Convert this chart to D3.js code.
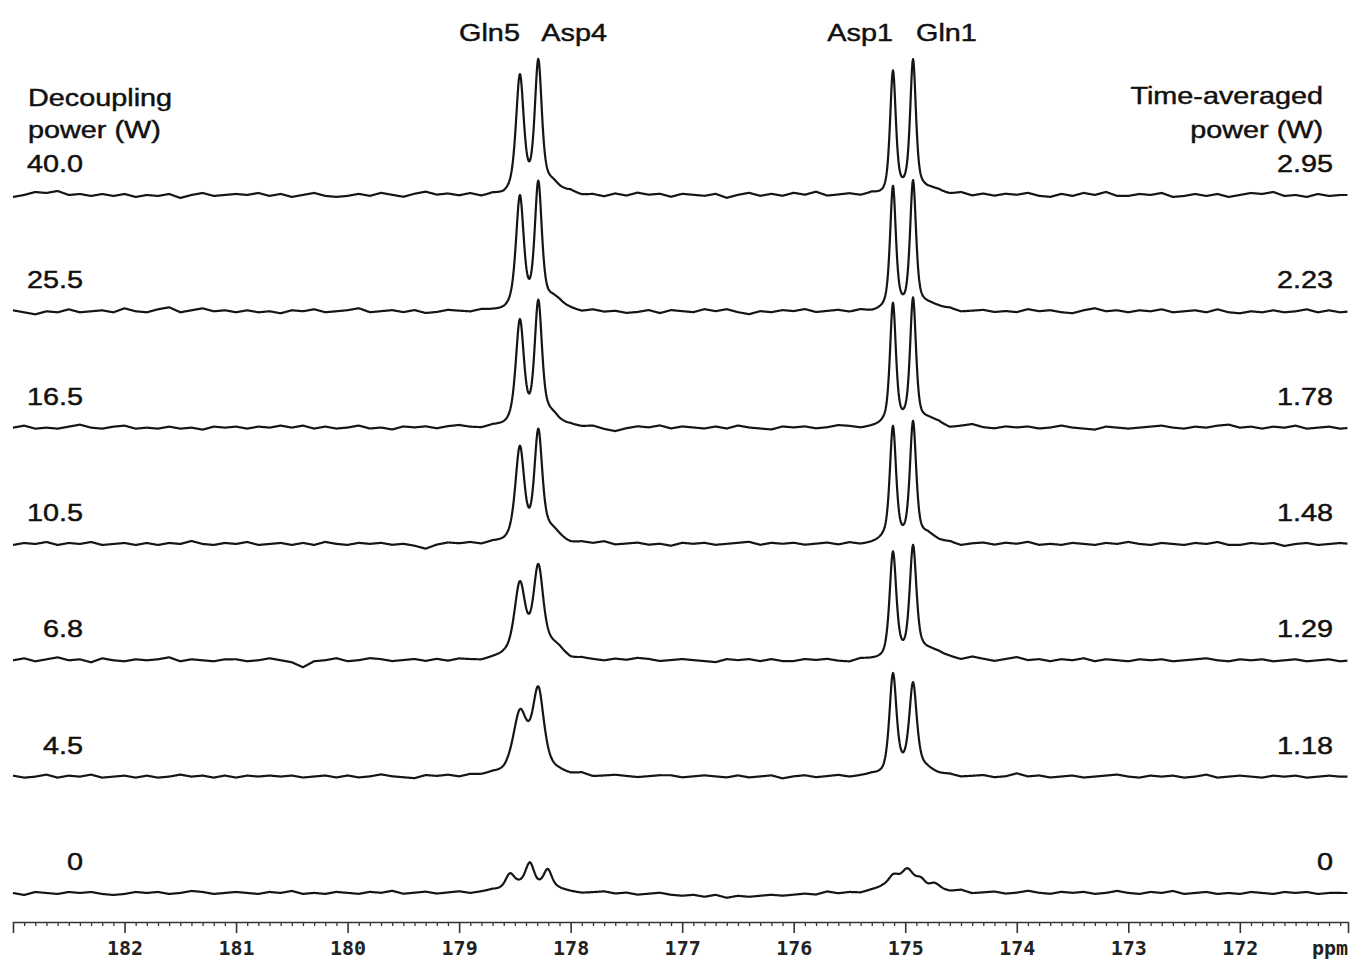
<!DOCTYPE html>
<html>
<head>
<meta charset="UTF-8">
<script src="https://d3js.org/d3.v7.min.js"></script>
<title>Decoupling power series</title>
<style>
  body { margin: 0; background: #fff; }
  .lbl { font-family: "Liberation Sans", Arial, sans-serif; font-size: 24px; fill: #111; stroke: #111; stroke-width: 0.45px; }
  .tick text, .unit { font-family: "DejaVu Sans Mono", monospace; font-weight: bold; font-size: 20px; fill: #222; }
</style>
</head>
<body>
<div id="container"></div>
<script>
// decoupling power (left) and time-averaged power (right), top trace first
var powers = ["40.0", "25.5", "16.5", "10.5", "6.8", "4.5", "0"];
var averaged = ["2.95", "2.23", "1.78", "1.48", "1.29", "1.18", "0"];
var axisTicks = [182, 181, 180, 179, 178, 177, 176, 175, 174, 173, 172];

// resonance labels: name, ppm of its peak, side of the peak the text sits on
var peakNames = ["Gln5", "Asp4", "Asp1", "Gln1"];
var peakPpm = [178.455, 178.29, 175.11, 174.93];
var peakSide = ["end", "start", "end", "start"];

// peaks of each trace: [ppm, height, half width]
var peaks40 = [[178.455, 117, 0.042], [178.29, 128, 0.038], [178.16, 10, 0.09], [175.11, 123, 0.031], [174.93, 131, 0.031], [174.8, 7, 0.1]];
var peaks25 = [[178.455, 112, 0.042], [178.29, 122, 0.038], [178.16, 10, 0.09], [175.11, 121, 0.031], [174.93, 127, 0.032], [174.8, 7, 0.1]];
var peaks16 = [[178.455, 104, 0.044], [178.29, 121, 0.04], [178.16, 10, 0.09], [175.11, 123, 0.032], [174.93, 126, 0.032], [174.8, 7, 0.1]];
var peaks10 = [[178.455, 93, 0.048], [178.29, 109, 0.043], [178.16, 10, 0.09], [175.11, 116, 0.034], [174.93, 119, 0.034], [174.8, 7, 0.1]];
var peaks68 = [[178.455, 74, 0.06], [178.29, 88, 0.054], [178.15, 10, 0.1], [175.11, 105, 0.036], [174.93, 108, 0.036], [174.8, 8, 0.12]];
var peaks45 = [[178.455, 55, 0.072], [178.29, 78, 0.06], [178.35, 8, 0.2], [175.11, 98, 0.038], [174.93, 85, 0.04], [174.9, 8, 0.15]];
var peaks0 = [[178.545, 14, 0.05], [178.365, 21, 0.045], [178.205, 18, 0.045], [178.38, 8, 0.22], [175.105, 11, 0.055], [174.98, 14, 0.06], [174.86, 7, 0.05], [174.74, 5, 0.05], [174.97, 8, 0.22]];

// baseline wiggle read every 0.1 ppm from 183.0 down to 171.0 (px)
var noise40 = [-2,0,3,2,4,0,1,-1,1,-1, 1,-2,0,-1,1,-3,0,2,-1,0, 1,0,2,-1,1,-2,0,2,-1,-2, -1,1,-1,2,0,-2,1,3,0,1, -1,1,-2,0,-2,0,-1,1,0,-1, 2,-1,0,-2,1,-1,2,0,1,-2, 1,0,-1,1,-3,0,2,-1,1,-1, 2,0,3,-1,0,1,-1,1,-2,-1, 1,0,-2,1,0,2,-1,1,-1,1, 0,2,-1,-2,1,-1,2,0,3,-1, -1,1,0,2,-2,-1,1,-1,1,-2, 0,2,1,3,-1,0,-2,1,-1,0, 0];
var noise25 = [1,-1,-3,0,-1,2,-1,0,1,-1, 3,0,-1,2,4,-1,1,3,0,1, -1,1,-1,0,-2,1,0,2,-1,0, 1,3,-1,0,1,-1,1,-2,-1,1, 0,-1,1,0,-1,1,-1,2,0,2, 1,-1,1,-1,0,-2,-1,1,-2,1, 0,-1,2,0,2,-1,-3,0,-1,1, 0,2,-1,0,1,-1,1,-1,0,2, -1,0,-1,1,2,-1,0,1,-1,0, -1,2,0,1,-1,-2,1,3,0,1, -1,1,0,2,-1,0,1,-1,2,-1, -2,0,-1,1,-1,0,2,-1,1,-1, 0];
var noise16 = [0,2,-1,0,-1,1,3,0,-1,1, 2,-1,0,-1,1,-1,0,-2,1,0, 1,-1,1,0,2,0,2,-1,1,-1, 0,2,-1,0,-2,1,0,1,-1,1, 2,0,-1,1,0,1,-1,0,1,-1, 1,0,1,-2,-4,-1,1,0,2,-1, 1,0,-1,1,-1,2,0,-1,-2,1, 0,1,-1,0,2,1,-1,0,1,-1, 1,-1,0,2,-1,1,3,0,-1,1, 0,1,-1,0,2,0,-1,-2,1,0, -1,0,1,2,0,-1,1,0,2,3, 0,1,-1,1,0,2,-1,0,1,-1, 0];
var noise10 = [-1,1,0,2,-1,1,0,2,-1,0, 1,-1,1,-1,1,0,3,0,-1,1, 0,2,-1,0,1,-1,1,-1,2,0, -1,1,0,1,-1,0,-2,-5,-1,1, 0,1,-1,1,0,2,-1,-1,1,0, -1,1,0,2,-1,0,1,-1,0,-2, 1,0,1,-1,0,1,2,-1,1,0, 1,-1,0,1,-1,1,-1,0,2,-1, 0,-1,1,0,1,-2,0,1,-1,1, 0,2,-1,0,-1,1,0,-1,1,0, 2,0,-1,1,0,-1,1,0,2,-1, -1,1,0,1,-2,0,1,-1,0,1, 0];
var noise68 = [0,2,-1,1,3,0,1,-2,2,0, -1,1,0,1,3,-1,1,0,-1,1, 1,-1,0,2,0,-2,-7,-1,0,2, -1,0,2,1,-1,0,1,-1,1,-1, 1,0,-1,1,2,0,-1,0,1,2, -1,1,0,-1,1,0,2,1,-1,0, 1,0,-1,-2,1,0,1,-1,1,-1, -1,1,0,1,-1,-2,1,0,-1,1, 0,2,1,3,2,0,3,1,-1,1, 3,0,1,-1,1,0,2,-1,1,0, -1,1,0,1,-1,0,1,2,0,-1, 1,0,1,-1,0,1,-1,0,1,-1, 0];
var noise45 = [1,-1,0,2,-1,1,0,2,-1,0, 1,-1,1,-1,0,2,0,1,-1,1, -1,1,0,1,0,1,-1,0,1,-1, 1,-1,0,2,0,-1,-2,1,0,1, -1,1,0,1,-1,0,1,-1,0,1, 0,2,-1,0,1,0,-1,0,1,1, -1,0,1,0,-1,1,-1,0,1,-2, 0,1,-1,0,1,-1,0,1,-1,1, 0,-1,1,0,1,-1,0,1,-1,0, 3,0,1,-1,0,1,-1,0,1,2, 0,-1,1,0,1,-1,0,2,-1,0, 1,0,-1,1,0,1,-1,0,1,0, 0];
var noise0 = [0,-2,1,0,-1,1,0,1,-1,-2, -1,1,0,1,-1,0,2,1,-1,0, 1,0,-1,1,0,2,-1,0,-1,1, 0,-1,1,0,2,-1,0,1,-1,0, 1,-1,0,1,-1,0,1,-1,0,1, 0,-1,0,1,-1,0,-2,-1,0,-2, -3,-2,-4,-2,-5,-3,-4,-3,-2,-3, -2,-1,-2,1,-1,0,-1,1,2,0, 1,0,-1,1,0,2,-1,0,1,-1, 0,2,0,-1,1,0,1,-1,0,2, 0,-1,1,0,2,-1,0,1,-1,0, -1,1,0,-1,1,0,1,-1,0,0, 0];

var traces = [peaks40, peaks25, peaks16, peaks10, peaks68, peaks45, peaks0];
var noises = [noise40, noise25, noise16, noise10, noise68, noise45, noise0];

var width = 1352, height = 961;

var svg = d3.select("#container").append("svg")
  .attr("width", width).attr("height", height);

var x = d3.scaleLinear().domain([183, 171.03]).range([13, 1348]);
var yBase = d3.scalePoint().domain(powers).range([195, 893]);
var y = d3.scaleLinear().domain([0, 100]).range([0, -100]);

// spectrum value at a ppm: baseline wiggle plus the peaks of that trace
// (peak shape: 60% Lorentzian, 40% Gaussian)
function value(i, ppm) {
  var n = noises[i], pos = (183 - ppm) / 0.1, k = Math.floor(pos), f = pos - k;
  var a = n[k] || 0, b = n[k + 1] || 0;
  var v = a + (b - a) * f;
  traces[i].forEach(function(p) {
    var d = (ppm - p[0]) / p[2], d2 = d * d;
    v += p[1] * (0.6 / (1 + d2) + 0.4 * Math.exp(-Math.LN2 * d2));
  });
  return v;
}

var grid = d3.range(183, 171.03, -0.005);

var line = d3.line()
  .x(function(d) { return x(d[0]); })
  .y(function(d) { return y(d[1]); });

powers.forEach(function(p, i) {
  svg.append("path")
    .attr("transform", "translate(0," + yBase(p) + ")")
    .attr("d", line(grid.map(function(ppm) { return [ppm, value(i, ppm)]; })))
    .attr("fill", "none")
    .attr("stroke", "#151515")
    .attr("stroke-width", 2.2)
    .attr("stroke-linejoin", "round");
});

// axis: major ticks with labels, minor ticks every 0.1 ppm
var axisY = 922;
var minor = d3.range(1710, 1831).map(function(v) { return v / 10; })
  .filter(function(v) { return v % 1 !== 0; });

svg.append("g")
  .attr("transform", "translate(0," + axisY + ")")
  .call(d3.axisBottom(x).tickValues(minor).tickSize(4).tickSizeOuter(0).tickFormat(""))
  .call(function(g) { g.select(".domain").remove(); })
  .selectAll("line").attr("stroke", "#333").attr("stroke-width", 1.3);

var ax = svg.append("g")
  .attr("transform", "translate(0," + axisY + ")")
  .call(d3.axisBottom(x).tickValues(axisTicks).tickSize(11).tickSizeOuter(11).tickFormat(d3.format("d")));
ax.select(".domain").attr("stroke", "#333").attr("stroke-width", 1.6);
ax.selectAll(".tick line").attr("stroke", "#333").attr("stroke-width", 1.6);
ax.selectAll(".tick text").attr("y", 33).attr("dy", 0);
ax.attr("font-family", null).attr("font-size", null);

svg.append("text").attr("class", "unit")
  .attr("x", 1330).attr("y", 955).attr("text-anchor", "middle").text("ppm");

// horizontally widened text, as in the original figure
function label(tx, ty, anchor, str) {
  svg.append("g")
    .attr("transform", "translate(" + tx + "," + ty + ") scale(1.2,1)")
    .append("text").attr("class", "lbl")
    .attr("text-anchor", anchor).text(str);
}

label(28, 106, "start", "Decoupling");
label(28, 138, "start", "power (W)");
label(1323, 104, "end", "Time-averaged");
label(1323, 138, "end", "power (W)");

powers.forEach(function(p, i) {
  label(83, yBase(p) - 23, "end", p);
  label(1333, yBase(p) - 23, "end", averaged[i]);
});

peakNames.forEach(function(n, i) {
  var off = peakSide[i] === "end" ? 0 : 3;
  label(x(peakPpm[i]) + off, 41, peakSide[i], n);
});
</script>
</body>
</html>
